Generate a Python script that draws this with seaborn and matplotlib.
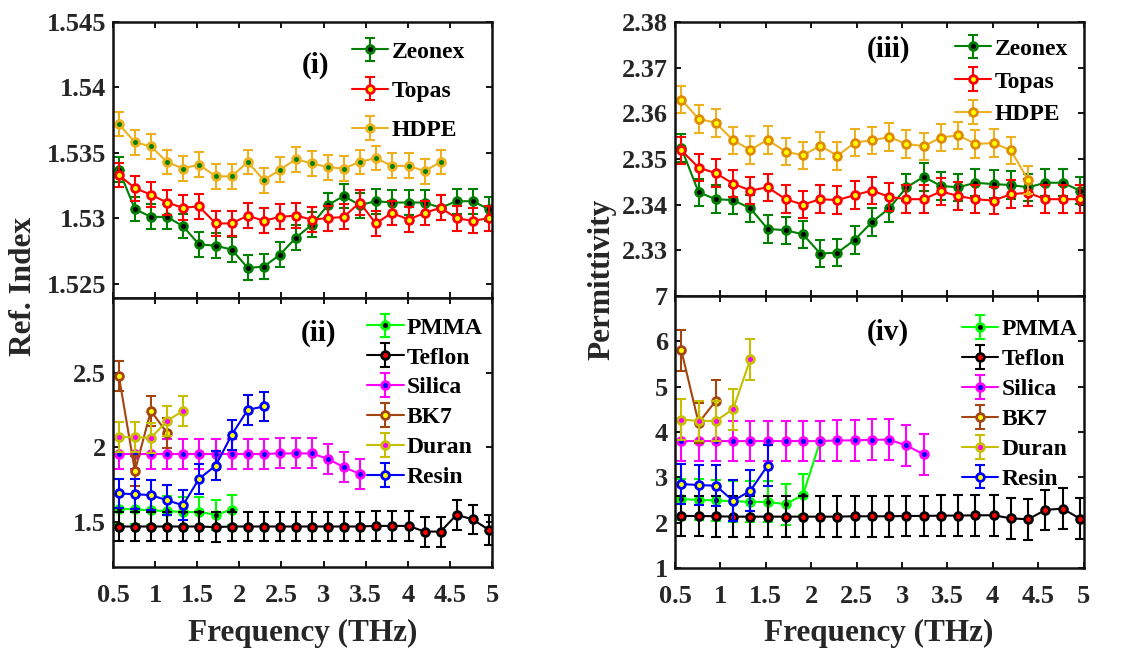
import matplotlib
matplotlib.use("Agg")
import matplotlib.pyplot as plt
import seaborn as sns

# Measurement frequencies (THz)
freq = [0.57, 0.76, 0.95, 1.14, 1.33, 1.52, 1.72, 1.91, 2.10, 2.29, 2.48, 2.67,
        2.86, 3.05, 3.24, 3.43, 3.62, 3.81, 4.01, 4.20, 4.39, 4.58, 4.77, 4.96]

# (i) refractive index of low-loss polymers
zeonex_n = [1.5337, 1.5307, 1.5301, 1.5301, 1.5294, 1.5280, 1.5279, 1.5276,
            1.5262, 1.5263, 1.5272, 1.5285, 1.5295, 1.5310, 1.5317, 1.5310,
            1.5313, 1.5312, 1.5312, 1.5312, 1.5308, 1.5313, 1.5313, 1.5307]
topas_n = [1.5333, 1.5323, 1.5318, 1.5312, 1.5308, 1.5309, 1.5296, 1.5296,
           1.5302, 1.5298, 1.5301, 1.5302, 1.5299, 1.5300, 1.5301, 1.5312,
           1.5296, 1.5304, 1.5299, 1.5304, 1.5308, 1.5300, 1.5298, 1.5300]
hdpe_n = [1.5372, 1.5358, 1.5355, 1.5343, 1.5338, 1.5341, 1.5332, 1.5332,
          1.5343, 1.5329, 1.5337, 1.5345, 1.5342, 1.5339, 1.5338, 1.5343,
          1.5346, 1.5340, 1.5340, 1.5336, 1.5343]
err_n_polymer = 0.00095

# (ii) refractive index of other materials
pmma_n = [1.590, 1.586, 1.579, 1.574, 1.568, 1.568, 1.550, 1.584]
teflon_n = [1.471, 1.471, 1.471, 1.471, 1.471, 1.471, 1.467, 1.471,
            1.471, 1.471, 1.471, 1.471, 1.471, 1.471, 1.471, 1.471,
            1.475, 1.475, 1.475, 1.437, 1.437, 1.550, 1.518, 1.450]
silica_n = [1.956, 1.956, 1.956, 1.956, 1.956, 1.956, 1.956, 1.956,
            1.956, 1.956, 1.960, 1.960, 1.960, 1.924, 1.868, 1.823]
bk7_n = [2.477, 1.843, 2.245, 2.098]
duran_n = [2.069, 2.069, 2.064, 2.177, 2.245]
resin_n = [1.692, 1.687, 1.681, 1.647, 1.613, 1.789, 1.879, 2.085, 2.252, 2.274]
err_n_other = 0.1

# (iii) permittivity of low-loss polymers
zeonex_eps = [2.3524, 2.3427, 2.3412, 2.3410, 2.3392, 2.3347, 2.3344, 2.3335,
              2.3293, 2.3295, 2.3323, 2.3362, 2.3392, 2.3438, 2.3461, 2.3441,
              2.3438, 2.3448, 2.3445, 2.3443, 2.3438, 2.3448, 2.3448, 2.3431]
topas_eps = [2.3519, 2.3481, 2.3469, 2.3446, 2.3431, 2.3438, 2.3412, 2.3400,
             2.3412, 2.3410, 2.3421, 2.3431, 2.3417, 2.3412, 2.3412, 2.3429,
             2.3419, 2.3412, 2.3409, 2.3423, 2.3426, 2.3412, 2.3412, 2.3412]
hdpe_eps = [2.3630, 2.3588, 2.3579, 2.3541, 2.3520, 2.3542, 2.3516, 2.3508,
            2.3529, 2.3507, 2.3536, 2.3541, 2.3548, 2.3533, 2.3528, 2.3547,
            2.3552, 2.3533, 2.3535, 2.3519, 2.3454]
err_eps_polymer = 0.003

# (iv) permittivity of other materials
pmma_eps = [2.519, 2.504, 2.489, 2.474, 2.459, 2.459, 2.407, 2.615, 3.800]
teflon_eps = [2.148, 2.148, 2.141, 2.133, 2.133, 2.133, 2.133, 2.133,
              2.133, 2.133, 2.141, 2.141, 2.141, 2.148, 2.148, 2.156,
              2.156, 2.163, 2.163, 2.096, 2.074, 2.281, 2.311, 2.089]
silica_eps = [3.800, 3.800, 3.800, 3.800, 3.800, 3.800, 3.800, 3.800,
              3.800, 3.815, 3.815, 3.830, 3.830, 3.704, 3.504]
bk7_eps = [5.800, 4.200, 4.690]
duran_eps = [4.274, 4.244, 4.244, 4.504, 5.607]
resin_eps = [2.852, 2.830, 2.815, 2.481, 2.704, 3.259]
err_eps_other = 0.45

# Axis ticks
x_ticks = [0.5, 1, 1.5, 2, 2.5, 3, 3.5, 4, 4.5, 5]
x_ticklabels = ["0.5", "1", "1.5", "2", "2.5", "3", "3.5", "4", "4.5", "5"]
n_poly_ticks = [1.525, 1.53, 1.535, 1.54, 1.545]
n_poly_ticklabels = ["1.525", "1.53", "1.535", "1.54", "1.545"]
n_other_ticks = [1.5, 2, 2.5]
n_other_ticklabels = ["1.5", "2", "2.5"]
eps_poly_ticks = [2.33, 2.34, 2.35, 2.36, 2.37, 2.38]
eps_poly_ticklabels = ["2.33", "2.34", "2.35", "2.36", "2.37", "2.38"]
eps_other_ticks = [1, 2, 3, 4, 5, 6, 7]
eps_other_ticklabels = ["1", "2", "3", "4", "5", "6", "7"]

sns.set_theme(style="ticks")
plt.rcParams["font.family"] = ["Liberation Serif", "DejaVu Serif"]
plt.rcParams["font.weight"] = "bold"
plt.rcParams["axes.linewidth"] = 1.8

TEXT = "#262626"

fig = plt.figure(figsize=(11.39, 6.5), dpi=100)
W, H = 1139, 650


def px_axes(x0, x1, y0, y1):
    return fig.add_axes([x0 / W, 1 - y1 / H, (x1 - x0) / W, (y1 - y0) / H])


ax_i = px_axes(113, 492, 22, 298)
ax_ii = px_axes(113, 492, 298, 567)
ax_iii = px_axes(675, 1083.5, 22, 296)
ax_iv = px_axes(675, 1083.5, 296, 568)


def draw(ax, values, err, color, face, label, edge=None):
    xs = freq[:len(values)]
    cont = ax.errorbar(xs, values, yerr=err, fmt="none", ecolor=color,
                       elinewidth=1.5, capsize=3.3, capthick=1.5)
    sns.lineplot(x=xs, y=values, ax=ax, color=color, linewidth=1.5,
                 marker="o", markersize=5.6, markeredgewidth=2.0,
                 markeredgecolor=edge or color, markerfacecolor=face,
                 estimator=None, sort=False, legend=False)
    return (cont, ax.lines[-1]), label


def style(ax, yticks, yticklabels, ylim, show_x):
    ax.set_xlim(0.5, 5)
    ax.set_ylim(*ylim)
    ax.set_xticks(x_ticks)
    ax.set_xticklabels(x_ticklabels if show_x else [])
    ax.set_yticks(yticks)
    ax.set_yticklabels(yticklabels)
    ax.tick_params(direction="in", top=True, right=True, length=4, width=1.3,
                   labelsize=19, colors="black", labelcolor=TEXT)
    ax.tick_params(axis="x", pad=12)
    ax.tick_params(axis="y", pad=5)
    for lab in ax.get_xticklabels() + ax.get_yticklabels():
        lab.set_fontweight("bold")
    for sp in ax.spines.values():
        sp.set_color("#111111")
    ax.set_xlabel("")
    ax.set_ylabel("")


def add_legend(ax, entries, x, y, spacing):
    handles = [h for h, _ in entries]
    labels = [l for _, l in entries]
    leg = ax.legend(handles, labels, loc="upper left", bbox_to_anchor=(x, y),
                    frameon=False, fontsize=17, handlelength=1.55,
                    handletextpad=0.15, labelspacing=spacing,
                    borderpad=0, borderaxespad=0)
    for t in leg.get_texts():
        t.set_color("black")
        t.set_fontweight("bold")


# (i)
e = [draw(ax_i, zeonex_n, err_n_polymer, "#008000", "black", "Zeonex"),
     draw(ax_i, topas_n, err_n_polymer, "#FF0000", "#FFFF00", "Topas"),
     draw(ax_i, hdpe_n, err_n_polymer, "#EDB120", "#008000", "HDPE")]
style(ax_i, n_poly_ticks, n_poly_ticklabels, (1.5239, 1.545), False)
add_legend(ax_i, e, 0.630, 0.931, 0.75)

# (ii)
e = [draw(ax_ii, pmma_n, err_n_other, "#00FF00", "black", "PMMA"),
     draw(ax_ii, teflon_n, err_n_other, "black", "#FF0000", "Teflon"),
     draw(ax_ii, silica_n, err_n_other, "#FF00FF", "#0000FF", "Silica"),
     draw(ax_ii, bk7_n, err_n_other, "#A2450F", "#FFFF00", "BK7"),
     draw(ax_ii, duran_n, err_n_other, "#C8BE00", "#FF00FF", "Duran"),
     draw(ax_ii, resin_n, err_n_other, "#0000FF", "#FFFF00", "Resin")]
style(ax_ii, n_other_ticks, n_other_ticklabels, (1.2, 3.0), True)
add_legend(ax_ii, e, 0.670, 0.929, 0.355)

# (iii)
e = [draw(ax_iii, zeonex_eps, err_eps_polymer, "#008000", "black", "Zeonex"),
     draw(ax_iii, topas_eps, err_eps_polymer, "#FF0000", "#FFFF00", "Topas"),
     draw(ax_iii, hdpe_eps, err_eps_polymer, "#EDB120", "#FFFF00", "HDPE",
          edge="#E08A00")]
style(ax_iii, eps_poly_ticks, eps_poly_ticklabels, (2.32, 2.38), False)
add_legend(ax_iii, e, 0.685, 0.941, 0.48)

# (iv)
e = [draw(ax_iv, pmma_eps, err_eps_other, "#00FF00", "black", "PMMA"),
     draw(ax_iv, teflon_eps, err_eps_other, "black", "#FF0000", "Teflon"),
     draw(ax_iv, silica_eps, err_eps_other, "#FF00FF", "#0000FF", "Silica"),
     draw(ax_iv, bk7_eps, err_eps_other, "#A2450F", "#FFFF00", "BK7"),
     draw(ax_iv, duran_eps, err_eps_other, "#C8BE00", "#FF00FF", "Duran"),
     draw(ax_iv, resin_eps, err_eps_other, "#0000FF", "#FFFF00", "Resin")]
style(ax_iv, eps_other_ticks, eps_other_ticklabels, (1, 7), True)
add_legend(ax_iv, e, 0.702, 0.916, 0.355)

# Panel tags
for ax, tag, x, y in [(ax_i, "(i)", 0.533, 0.844), (ax_ii, "(ii)", 0.542, 0.87),
                      (ax_iii, "(iii)", 0.522, 0.90), (ax_iv, "(iv)", 0.522, 0.867)]:
    ax.text(x, y, tag, transform=ax.transAxes, ha="center", va="center",
            fontsize=21, fontweight="bold", color="black")

# Shared axis titles
fig.text(23.5 / W, 1 - 287 / H, "Ref. Index", rotation=90, ha="center",
         va="center", fontsize=22.5, fontweight="bold", color=TEXT)
fig.text(602 / W, 1 - 279 / H, "Permittivity", rotation=90, ha="center",
         va="center", fontsize=22.5, fontweight="bold", color=TEXT)
fig.text(302.5 / W, 1 - 633 / H, "Frequency (THz)", ha="center", va="center",
         fontsize=22.5, fontweight="bold", color=TEXT)
fig.text(879 / W, 1 - 633 / H, "Frequency (THz)", ha="center", va="center",
         fontsize=22.5, fontweight="bold", color=TEXT)

fig.savefig("out.png", dpi=100, facecolor="white")
